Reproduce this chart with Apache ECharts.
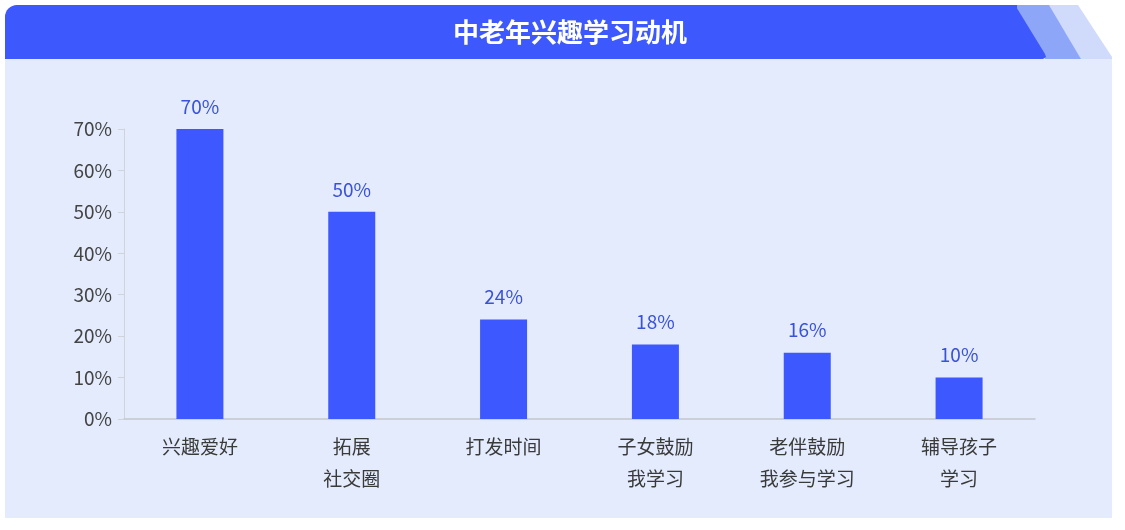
<!DOCTYPE html>
<html><head><meta charset="utf-8">
<script src="https://cdn.jsdelivr.net/npm/echarts@6/dist/echarts.min.js"></script>
<style>html,body{margin:0;padding:0;background:#fff}#c{width:1125px;height:530px}</style>
</head><body><div id="c"></div>
<script>
const title = '中老年兴趣学习动机';
const categories = ['兴趣爱好', '拓展\n社交圈', '打发时间', '子女鼓励\n我学习', '老伴鼓励\n我参与学习', '辅导孩子\n学习'];
const values = [70, 50, 24, 18, 16, 10];
const yTicks = [0, 10, 20, 30, 40, 50, 60, 70];

const chart = echarts.init(document.getElementById('c'), null, {renderer: 'canvas'});
const font = '"Noto Sans CJK SC", "Noto Sans", sans-serif';
chart.setOption({
  backgroundColor: '#ffffff',
  textStyle: {fontFamily: font},
  graphic: [
    {type: 'rect', z: -10, shape: {x: 5, y: 5, width: 1107, height: 513, r: [12, 0, 0, 0]}, style: {fill: '#e3ebfc'}},
    {type: 'polygon', z: -9, shape: {points: [[1070, 4], [1114, 4], [1114, 60]]}, style: {fill: '#ffffff'}},
    {type: 'polygon', z: -8, shape: {points: [[1049, 5], [1078, 5], [1112, 57], [1112, 59], [1081, 59]]}, style: {fill: '#d0dbfb'}},
    {type: 'polygon', z: -8, shape: {points: [[1013, 5], [1049, 5], [1081, 59], [1045, 59]]}, style: {fill: '#8ea6f7'}},
    {type: 'rect', z: -7, shape: {x: 5, y: 5, width: 1012, height: 54, r: [12, 0, 0, 0]}, style: {fill: '#3d58fd'}},
    {type: 'polygon', z: -7, shape: {points: [[1015, 5], [1045, 54], [1046, 57], [1043, 59], [1015, 59]]}, style: {fill: '#3d58fd'}},
    {type: 'text', z: 5, x: 570, y: 32, style: {text: title, fill: '#ffffff', font: 'bold 26px ' + font, textAlign: 'center', textVerticalAlign: 'middle'}}
  ],
  grid: {left: 124, right: 90, top: 129, bottom: 111, containLabel: false},
  xAxis: {
    type: 'category',
    data: categories,
    axisLine: {lineStyle: {color: '#c3c6cc', width: 1.5}},
    axisTick: {show: false},
    axisLabel: {color: '#3a3a3a', fontSize: 19, lineHeight: 32, margin: 12, interval: 0, fontFamily: font}
  },
  yAxis: {
    type: 'value',
    min: 0, max: 70, interval: 10,
    axisLine: {show: true, lineStyle: {color: '#d0d4da'}},
    axisTick: {show: true, length: 6, lineStyle: {color: '#d0d4da'}},
    splitLine: {show: false},
    axisLabel: {color: '#444', fontSize: 19, margin: 12, formatter: v => v + '%', fontFamily: font}
  },
  series: [{
    type: 'bar',
    data: values,
    barWidth: 47,
    itemStyle: {color: '#3d58fe'},
    label: {show: true, position: 'top', distance: 13, color: '#3a52d8', fontSize: 19, formatter: p => p.value + '%', fontFamily: font}
  }]
});
</script></body></html>
